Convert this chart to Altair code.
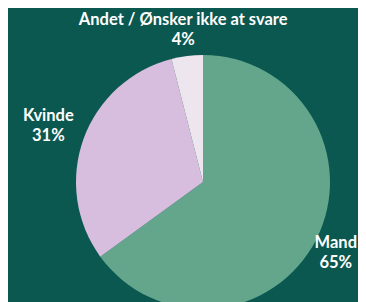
import altair as alt
import pandas as pd

categories = ["Mand", "Kvinde", "Andet / Ønsker ikke at svare"]
values = [65, 31, 4]
colors = ["#64a68c", "#d8bede", "#ede6ee"]

df = pd.DataFrame({
    "kategori": categories,
    "andel": values,
    "rank": list(range(len(categories))),
})
df["label"] = df["kategori"] + "\n" + df["andel"].astype(str) + "%"

cx, cy = 195, 174

base = alt.Chart(df).encode(
    theta=alt.Theta("andel:Q", stack=True),
    order=alt.Order("rank:Q"),
)

arcs = base.mark_arc(outerRadius=127, stroke=None).encode(
    color=alt.Color("kategori:N", scale=alt.Scale(domain=categories, range=colors), legend=None),
    x=alt.value(cx),
    y=alt.value(cy),
)

text_style = dict(
    radius=158, font="Lato", fontSize=16.5, fontWeight="bold", color="white",
    lineBreak="\n", align="center", baseline="middle", lineHeight=20,
)

# per-label nudges (Mand kept inside the visible area)
nudges = {"Mand": (-8, -11), "Kvinde": (-6, -12), "Andet / Ønsker ikke at svare": (0, -5)}

text_layers = []
for cat in categories:
    ddx, ddy = nudges[cat]
    text_layers.append(
        base.mark_text(dx=ddx, dy=ddy, **text_style).encode(
            text="label:N",
            x=alt.value(cx),
            y=alt.value(cy),
            opacity=alt.condition(alt.datum.kategori == cat, alt.value(1), alt.value(0)),
        )
    )

chart = alt.layer(arcs, *text_layers).properties(
    width=350, height=294, background="#0a5850",
    autosize=alt.AutoSizeParams(type="none"), padding=0,
).configure_view(stroke=None)

chart.save("out.html", embed_options={"renderer": "svg", "actions": False})
